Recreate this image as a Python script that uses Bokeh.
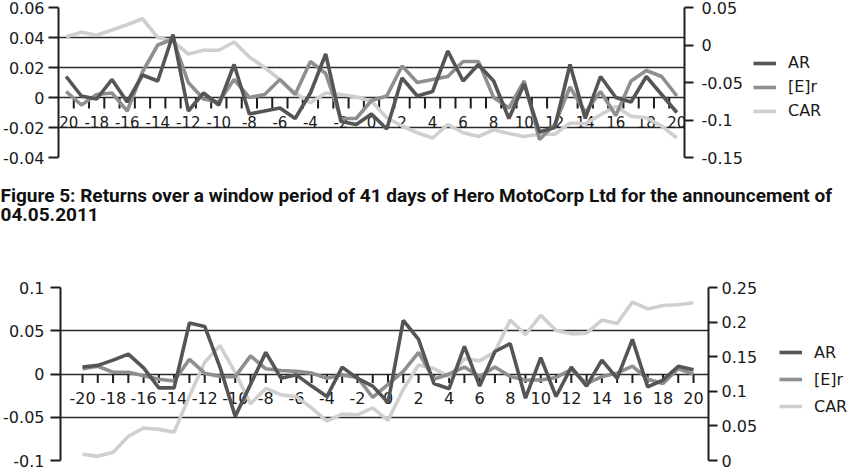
from bokeh.plotting import figure
from bokeh.models import Range1d, LinearAxis, FixedTicker, Legend, LegendItem
from bokeh.layouts import column, row
from bokeh.embed import file_html
from bokeh.resources import INLINE
from bokeh.core.properties import value

# ---------------- data ----------------
days = list(range(-20, 21))
label_days = [d for d in days if d % 2 == 0]
day_labels = [str(d) for d in label_days]
series_names = ["AR", "[E]r", "CAR"]

# Top chart (upper panel)
top_ar = [0.014, 0.001, -0.001, 0.012, -0.003, 0.015, 0.011, 0.042, -0.009, 0.003,
          -0.005, 0.022, -0.011, -0.009, -0.007, -0.014, 0.003, 0.029, -0.016, -0.018,
          -0.011, -0.021, 0.013, 0.001, 0.004, 0.031, 0.011, 0.022, 0.011, -0.014,
          0.009, -0.023, -0.020, 0.022, -0.014, 0.014, 0.000, -0.003, 0.014, 0.002, -0.010]
top_er = [0.004, -0.005, 0.002, 0.003, -0.009, 0.017, 0.035, 0.039, 0.010, -0.001,
          -0.003, 0.012, 0.000, 0.002, 0.012, 0.002, 0.024, 0.016, -0.014, -0.014,
          -0.002, 0.001, 0.021, 0.010, 0.012, 0.014, 0.024, 0.024, 0.000, -0.007,
          0.011, -0.028, -0.018, 0.007, -0.010, 0.004, -0.012, 0.011, 0.018, 0.014, 0.001]
top_car = [0.011, 0.017, 0.013, 0.020, 0.027, 0.035, 0.010, 0.005, -0.012, -0.007,
           -0.007, 0.004, -0.016, -0.030, -0.046, -0.064, -0.077, -0.064, -0.066, -0.069,
           -0.075, -0.097, -0.108, -0.117, -0.124, -0.106, -0.117, -0.122, -0.113, -0.118,
           -0.122, -0.119, -0.119, -0.104, -0.105, -0.093, -0.082, -0.095, -0.097, -0.108, -0.124]
top_left_ticks = [-0.04, -0.02, 0, 0.02, 0.04, 0.06]
top_left_labels = ["-0.04", "-0.02", "0", "0.02", "0.04", "0.06"]
top_right_ticks = [-0.15, -0.1, -0.05, 0, 0.05]
top_right_labels = ["-0.15", "-0.1", "-0.05", "0", "0.05"]

# Bottom chart (Hero MotoCorp, 04.05.2011)
bot_ar = [0.008, 0.010, 0.016, 0.023, 0.007, -0.016, -0.016, 0.059, 0.055, 0.008,
          -0.049, -0.012, 0.025, -0.005, -0.001, -0.014, -0.026, 0.008, -0.005, -0.014,
          -0.033, 0.062, 0.040, -0.011, -0.017, 0.032, -0.014, 0.026, 0.035, -0.028,
          0.019, -0.026, 0.008, -0.014, 0.016, -0.005, 0.040, -0.015, -0.007, 0.009, 0.005]
bot_er = [0.006, 0.009, 0.002, 0.002, -0.002, -0.006, -0.008, 0.017, 0.001, -0.003,
          -0.003, 0.021, 0.006, 0.004, 0.003, 0.001, -0.005, -0.001, -0.004, -0.027,
          -0.012, 0.003, 0.025, -0.006, 0.000, 0.008, -0.003, 0.008, -0.003, -0.007,
          -0.007, -0.004, 0.005, -0.011, -0.003, 0.001, 0.009, -0.006, -0.011, 0.006, 0.000]
bot_car = [0.009, 0.006, 0.012, 0.035, 0.047, 0.045, 0.041, 0.093, 0.142, 0.166,
           0.127, 0.082, 0.104, 0.095, 0.092, 0.076, 0.057, 0.067, 0.066, 0.076,
           0.058, 0.103, 0.138, 0.133, 0.121, 0.147, 0.144, 0.157, 0.203, 0.182,
           0.210, 0.188, 0.183, 0.184, 0.203, 0.198, 0.229, 0.219, 0.224, 0.225, 0.228]
bot_left_ticks = [-0.1, -0.05, 0, 0.05, 0.1]
bot_left_labels = ["-0.1", "-0.05", "0", "0.05", "0.1"]
bot_right_ticks = [0, 0.05, 0.1, 0.15, 0.2, 0.25]
bot_right_labels = ["0", "0.05", "0.1", "0.15", "0.2", "0.25"]

caption_lines = ["Figure 5: Returns over a window period of 41 days of Hero MotoCorp Ltd for the announcement of",
                 "04.05.2011"]

# ---------------- style ----------------
COLORS = ["#555555", "#8f8f8f", "#cfcfcf"]   # AR, [E]r, CAR
AXIS, GRID, TEXT = "#1e1e1e", "#2a2a2a", "#1a1a1a"
FONT = "DejaVu Sans"
LW = 3.6
PAGE_W = 850


def make_chart(ar, er, car, y_left, y_right, lticks, llabels, rticks, rlabels,
               x_rng, frame_w, frame_h, b_left, b_right, b_top, b_bottom,
               tick_mode, tick_px, lab_px, lab_size, l_standoff, r_standoff):
    p = figure(x_range=Range1d(*x_rng), y_range=Range1d(*y_left),
               frame_width=frame_w, frame_height=frame_h,
               min_border_left=b_left, min_border_right=b_right,
               min_border_top=b_top, min_border_bottom=b_bottom,
               x_axis_location=None, y_axis_location="left",
               toolbar_location=None, output_backend="svg")
    p.outline_line_color = None
    p.background_fill_color = "white"
    p.border_fill_color = "white"
    p.extra_y_ranges = {"car": Range1d(*y_right)}

    ax = p.yaxis[0]
    ax.ticker = FixedTicker(ticks=lticks)
    ax.major_label_overrides = dict(zip(lticks, llabels))

    rax = LinearAxis(y_range_name="car", ticker=FixedTicker(ticks=rticks),
                     major_label_overrides=dict(zip(rticks, rlabels)))
    p.add_layout(rax, "right")

    for a, tout, sto in ((ax, 10, l_standoff), (rax, 9, r_standoff)):
        a.axis_line_color = AXIS
        a.axis_line_width = 2
        a.major_tick_line_color = AXIS
        a.major_tick_line_width = 2
        a.major_tick_out = tout
        a.major_tick_in = 0
        a.minor_tick_line_color = None
        a.major_label_standoff = sto
        a.major_label_text_font = FONT
        a.major_label_text_font_size = "16px"
        a.major_label_text_color = TEXT

    p.ygrid.ticker = FixedTicker(ticks=lticks)
    p.ygrid.grid_line_color = GRID
    p.ygrid.grid_line_width = 1.6
    p.xgrid.visible = False

    # horizontal category axis drawn on the zero line
    span = y_left[1] - y_left[0]
    per_px = span / frame_h
    if tick_mode == "between":
        tick_x = [d - 0.5 for d in days[1:]]
    else:
        tick_x = list(days)
    p.segment(x0=tick_x, y0=[0] * len(tick_x), x1=tick_x, y1=[-tick_px * per_px] * len(tick_x),
              line_color=AXIS, line_width=2)
    p.text(x=label_days, y=[-lab_px * per_px] * len(label_days), text=day_labels,
           text_align="center", text_baseline="middle",
           text_font=value(FONT), text_font_size=value(lab_size), text_color=TEXT)

    p.line(days, car, line_color=COLORS[2], line_width=LW, y_range_name="car")
    p.line(days, er, line_color=COLORS[1], line_width=LW)
    p.line(days, ar, line_color=COLORS[0], line_width=LW)
    return p


def make_legend(width, frame_h, b_top, b_bottom, loc, row_h, standoff):
    # frame geometry equals the chart's so that the row keeps both aligned
    q = figure(x_range=Range1d(0, 1), y_range=Range1d(0, 1),
               frame_width=width, frame_height=frame_h,
               min_border_left=0, min_border_top=b_top,
               min_border_right=0, min_border_bottom=b_bottom,
               x_axis_location=None, y_axis_location=None,
               toolbar_location=None, output_backend="svg")
    q.outline_line_color = None
    q.grid.visible = False
    rs = [q.line([float("nan")], [float("nan")], line_color=c, line_width=LW) for c in COLORS]
    leg = Legend(items=[LegendItem(label=value(n), renderers=[r]) for n, r in zip(series_names, rs)],
                 location=loc, orientation="vertical", margin=0, padding=0,
                 spacing=3, glyph_width=23, glyph_height=20, label_height=row_h,
                 label_standoff=standoff, border_line_color=None,
                 background_fill_alpha=0, label_text_font=FONT,
                 label_text_font_size="16px", label_text_color=TEXT)
    q.add_layout(leg, "center")
    return q


top = make_chart(top_ar, top_er, top_car, (-0.04, 0.06), (-0.15, 0.05),
                 top_left_ticks, top_left_labels, top_right_ticks, top_right_labels,
                 (-20.5, 20.5), 626, 150, 57, 65, 7, 10,
                 "between", 11, 24, "15px", 4, 8)
top_leg = make_legend(PAGE_W - 57 - 626 - 65, 150, 7, 10, (4, 36), 21, 12)

cap = figure(x_range=Range1d(0, PAGE_W), y_range=Range1d(0, 100),
             frame_width=PAGE_W, frame_height=100, min_border=0,
             x_axis_location=None, y_axis_location=None,
             toolbar_location=None, output_backend="svg")
cap.outline_line_color = None
cap.grid.visible = False
cap.text(x=[0, 0], y=[72.0, 53.0], text=caption_lines,
         text_align="left", text_baseline="alphabetic",
         text_font=value("Roboto"), text_font_style="bold",
         text_font_size=value("19px"), text_color="#111111")

bot = make_chart(bot_ar, bot_er, bot_car, (-0.1, 0.1), (0, 0.25),
                 bot_left_ticks, bot_left_labels, bot_right_ticks, bot_right_labels,
                 (-21.44, 20.98), 648, 173, 59, 63, 20, 12,
                 "on", 9, 24, "16px", 6, 4)
bot_leg = make_legend(PAGE_W - 59 - 648 - 63, 173, 20, 12, (8, 42), 24, 12)

layout = column(row(top, top_leg, spacing=0), cap, row(bot, bot_leg, spacing=0), spacing=0)
open("out.html", "w").write(file_html(layout, INLINE))
